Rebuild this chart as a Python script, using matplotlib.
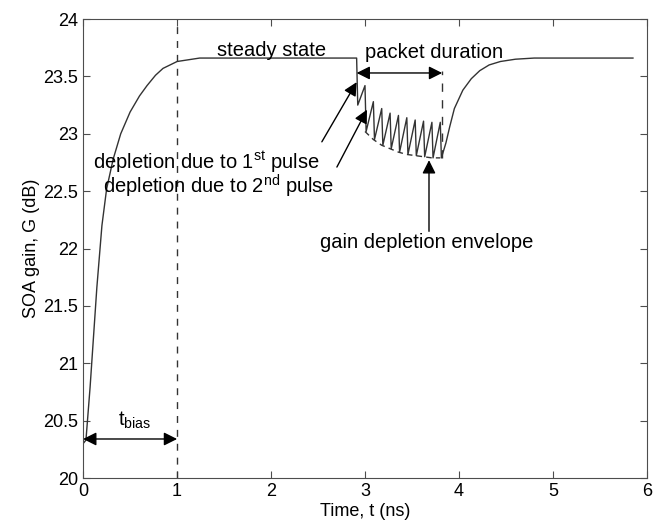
import numpy as np
import matplotlib.pyplot as plt

plt.rcParams['font.family'] = ['Liberation Sans', 'DejaVu Sans']
plt.rcParams['mathtext.fontset'] = 'custom'
plt.rcParams['mathtext.rm'] = 'Liberation Sans'
plt.rcParams['mathtext.it'] = 'Liberation Sans'

# gain build-up after bias switch-on
t_rise = [0.0, 0.03, 0.074, 0.146, 0.20, 0.25, 0.32, 0.40, 0.50, 0.60, 0.68, 0.77,
          0.85, 1.0, 1.24, 1.6, 2.0, 2.5, 2.91]
g_rise = [20.30, 20.33, 20.79, 21.66, 22.20, 22.52, 22.78, 23.00, 23.19, 23.33, 23.42, 23.51,
          23.57, 23.63, 23.66, 23.66, 23.66, 23.66, 23.66]

# pulse train (packet): gain before and after each pulse
pulse_t = [2.91, 2.999, 3.088, 3.177, 3.266, 3.355, 3.444, 3.533, 3.622, 3.711, 3.80]
peak_g = [23.66, 23.42, 23.28, 23.22, 23.18, 23.16, 23.14, 23.12, 23.11, 23.10, 23.10]
trough_g = [23.25, 23.02, 22.95, 22.90, 22.87, 22.84, 22.82, 22.81, 22.80, 22.79, 22.79]

# recovery after the packet
t_rec = [3.86, 3.90, 3.95, 4.04, 4.13, 4.22, 4.32, 4.44, 4.60, 4.80, 5.2, 5.85]
g_rec = [22.92, 23.06, 23.22, 23.38, 23.48, 23.55, 23.60, 23.63, 23.65, 23.66, 23.66, 23.66]

t_all = list(t_rise[:-1])
g_all = list(g_rise[:-1])
for tk, pk, tr in zip(pulse_t, peak_g, trough_g):
    t_all += [tk, tk + 0.012]
    g_all += [pk, tr]
t_all += t_rec
g_all += g_rec

lc = '0.2'
fig = plt.figure(figsize=(6.65, 5.29), dpi=100)
ax = fig.add_axes([0.125, 0.0964, 0.848, 0.8676])

ax.plot(t_all, g_all, color=lc, lw=1.0)
# gain depletion envelope
ax.plot(pulse_t[1:], [g + 0.0 for g in trough_g[1:]], color=lc, lw=1.0, linestyle=(0, (4, 3)))
# end-of-bias marker and packet end marker
ax.axvline(1.0, color=lc, lw=1.0, linestyle=(0, (5, 5)))
ax.plot([3.82, 3.82], [22.79, 23.55], color=lc, lw=1.0, linestyle=(0, (6, 6)))

ax.set_xlim(0, 6)
ax.set_ylim(20, 24)
ax.set_xticks([0, 1, 2, 3, 4, 5, 6])
ax.set_yticks([20, 20.5, 21, 21.5, 22, 22.5, 23, 23.5, 24])
ax.set_yticklabels(['20', '20.5', '21', '21.5', '22', '22.5', '23', '23.5', '24'])
ax.tick_params(direction='in', top=True, right=True, labelsize=13, length=5, color='0.3')
for s in ax.spines.values():
    s.set_color('0.3')
ax.set_xlabel('Time, t (ns)', fontsize=13, labelpad=2)
ax.set_ylabel('SOA gain, G (dB)', fontsize=13, labelpad=2)

fs = 14.5
ap1 = dict(arrowstyle='-|>', color='k', lw=1.0, mutation_scale=20, shrinkA=0, shrinkB=0)
ap2 = dict(arrowstyle='<|-|>', color='k', lw=1.0, mutation_scale=20, shrinkA=0, shrinkB=0)

ax.text(2.0, 23.73, 'steady state', fontsize=fs, ha='center', va='center')
ax.text(3.73, 23.71, 'packet duration', fontsize=fs, ha='center', va='center')
ax.annotate('', xy=(3.82, 23.53), xytext=(2.91, 23.53), arrowprops=ap2)

ax.text(1.31, 22.75, 'depletion due to 1$^{\\rm st}$ pulse', fontsize=fs, ha='center', va='center')
ax.text(1.44, 22.54, 'depletion due to 2$^{\\rm nd}$ pulse', fontsize=fs, ha='center', va='center')
ax.annotate('', xy=(2.91, 23.45), xytext=(2.54, 22.93), arrowprops=ap1)
ax.annotate('', xy=(3.02, 23.21), xytext=(2.70, 22.71), arrowprops=ap1)

ax.text(3.66, 22.05, 'gain depletion envelope', fontsize=fs, ha='center', va='center')
ax.annotate('', xy=(3.68, 22.77), xytext=(3.68, 22.15), arrowprops=ap1)

ax.text(0.55, 20.50, 't$_{\\rm bias}$', fontsize=fs, ha='center', va='center')
ax.annotate('', xy=(1.0, 20.34), xytext=(0.0, 20.34), arrowprops=ap2)

fig.savefig('out.png', dpi=100)
